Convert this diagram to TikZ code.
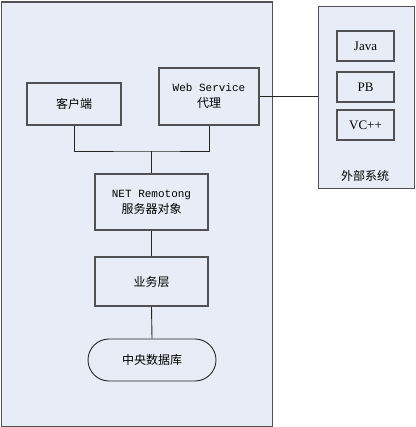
\documentclass[tikz,border=0pt]{standalone}
\usepackage{fontspec}
\setmainfont{Liberation Serif}
\newfontfamily\cjk{Noto Sans CJK SC}
\newfontfamily\monof{Liberation Mono}
\usetikzlibrary{shapes.misc}
\definecolor{panel}{RGB}{231,236,246}
\definecolor{edge}{RGB}{80,80,85}
\tikzset{
  x=1pt,y=-1pt,
  panelbox/.style={draw=edge,fill=panel,line width=1.2pt},
  blockbox/.style={draw=edge,fill=panel,line width=1.3pt,align=center,inner sep=0pt,font=\fontsize{12}{16}\selectfont},
  itembox/.style={blockbox,minimum width=57pt,minimum height=30pt,font=\fontsize{13}{15}\selectfont},
  conn/.style={draw=black!85,line width=0.9pt},
}
\begin{document}
\begin{tikzpicture}
\useasboundingbox (0,0) rectangle (415,427);
% main panel
\node[panelbox,minimum width=271pt,minimum height=424pt,inner sep=0pt,anchor=north west] (main) at (1,1.5) {};
% external panel
\node[panelbox,minimum width=96pt,minimum height=182pt,inner sep=0pt,anchor=north west] (ext) at (318,6) {};
% boxes
\node[blockbox,minimum width=94pt,minimum height=42pt] (client) at (74,104) {\cjk 客户端};
\node[blockbox,minimum width=100pt,minimum height=57pt] (ws) at (209,96.5) {{\monof\fontsize{11}{16}\selectfont Web Service}\\{\cjk 代理}};
\node[blockbox,minimum width=113pt,minimum height=56pt] (net) at (151.5,202) {{\monof\fontsize{11}{16}\selectfont NET Remotong}\\{\cjk 服务器对象}};
\node[blockbox,minimum width=113pt,minimum height=49pt] (biz) at (151.5,281.5) {\cjk 业务层};
\node[draw=black!85,fill=panel,line width=0.9pt,rounded rectangle,minimum width=128pt,minimum height=42pt,inner sep=0pt,font=\fontsize{12}{16}\selectfont] (db) at (152,360) {\cjk 中央数据库};
% external items
\node[itembox] (java) at (365.5,46) {Java};
\node[itembox] (pb) at (365.5,87) {PB};
\node[itembox] (vc) at (365.5,125) {VC++};
\node[inner sep=0pt,font=\fontsize{12}{14}\selectfont] (extlabel) at (365,176) {\cjk 外部系统};
% connectors
\coordinate (j) at (151.5,151);
\draw[conn] (client.south) |- (j) -| (ws.south);
\draw[conn] (j) -- (net.north);
\draw[conn] (net.south) -- (biz.north);
\draw[conn] (biz.south) -- (db.north);
\draw[conn] (ws.east) -- (ws.east -| ext.west);
\end{tikzpicture}
\end{document}
